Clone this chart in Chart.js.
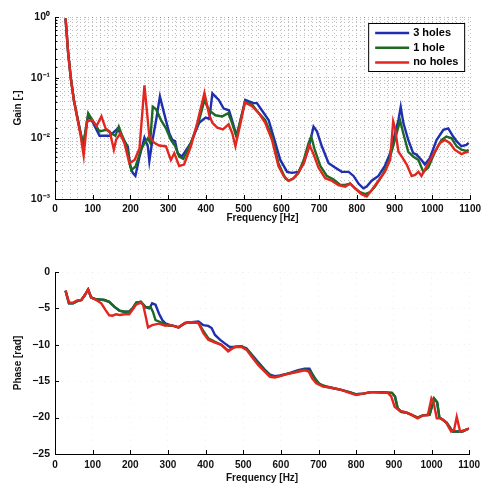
<!DOCTYPE html>
<html><head><meta charset="utf-8">
<script src="https://cdn.jsdelivr.net/npm/chart.js@4"></script>
<style>
html,body{margin:0;padding:0;background:#fff;width:485px;height:486px;overflow:hidden}
#c1{position:absolute;left:0;top:0;width:485px;height:243px}
#c2{position:absolute;left:0;top:243px;width:485px;height:243px}
</style></head>
<body>
<canvas id="c1" width="485" height="243"></canvas>
<canvas id="c2" width="485" height="243"></canvas>
<script>
// ---------- DATA ----------
const seriesNames = ['3 holes', '1 hole', 'no holes'];

// Gain (top plot)
const gainFreqBlue = [28,35,42,50,60,68,75,88,101,118,145,158,167,175,193,199,206,213,224,237,246,250,257,268,278,289,303,311,318,325,336,360,382,399,409,417,434,447,461,469,481,492,504,526,535,548,566,579,597,615,628,645,659,672,685,694,707,725,742,760,778,791,804,817,826,839,857,874,888,901,910,916,923,936,949,958,971,980,993,1011,1029,1042,1055,1064,1077,1090,1096];
const gainBlue = [0.95,0.25,0.097,0.043,0.021,0.012,0.0078,0.024,0.018,0.011,0.011,0.013,0.0146,0.011,0.0073,0.0035,0.0027,0.0024,0.005,0.0103,0.0074,0.0042,0.0084,0.02,0.049,0.026,0.012,0.0094,0.009,0.0057,0.005,0.0084,0.018,0.022,0.021,0.055,0.043,0.031,0.029,0.02,0.011,0.02,0.043,0.038,0.038,0.029,0.02,0.0107,0.0044,0.0028,0.0027,0.0028,0.0039,0.0069,0.0156,0.013,0.0074,0.0039,0.0033,0.0028,0.0028,0.0024,0.0018,0.0015,0.0016,0.002,0.0024,0.0035,0.0057,0.012,0.02,0.033,0.018,0.0094,0.0057,0.0054,0.0044,0.0037,0.0047,0.0094,0.0138,0.0146,0.0107,0.009,0.0074,0.0078,0.0084];

const gainFreqGreen = [28,35,42,50,60,68,75,88,101,118,136,150,160,169,178,190,202,213,228,237,246,252,259,268,281,294,307,318,329,340,360,382,396,408,425,443,459,469,481,492,504,522,540,557,575,592,610,619,632,645,659,672,679,688,703,720,738,756,769,782,795,808,822,835,848,866,883,896,910,914,923,936,949,963,976,989,1007,1024,1037,1051,1064,1077,1090,1096];
const gainGreen = [0.95,0.25,0.097,0.043,0.021,0.012,0.0078,0.026,0.019,0.013,0.0138,0.012,0.011,0.0156,0.011,0.0075,0.003,0.0034,0.0065,0.0083,0.01,0.0085,0.033,0.03,0.02,0.0146,0.0094,0.0075,0.005,0.0046,0.0084,0.02,0.043,0.029,0.024,0.023,0.026,0.018,0.0105,0.021,0.04,0.036,0.026,0.02,0.0107,0.0039,0.0022,0.002,0.0022,0.0027,0.0044,0.0084,0.0107,0.0065,0.0035,0.0024,0.0021,0.0017,0.0017,0.0018,0.0015,0.0013,0.0012,0.0013,0.0016,0.0024,0.0039,0.0074,0.0156,0.02,0.012,0.006,0.005,0.0044,0.0028,0.0033,0.006,0.0094,0.0107,0.01,0.0074,0.0065,0.0062,0.0065];

const gainFreqRed = [28,35,42,50,60,68,76,85,99,110,123,134,145,156,162,173,184,197,211,224,237,250,263,276,294,307,316,329,342,360,377,396,408,417,430,445,460,470,478,490,503,522,540,557,575,592,606,619,632,645,659,674,685,698,716,733,751,769,782,795,812,826,839,857,874,888,896,901,910,919,932,945,954,963,971,985,1002,1020,1033,1046,1059,1077,1086,1096];
const gainRed = [0.95,0.25,0.097,0.042,0.02,0.011,0.0052,0.019,0.02,0.016,0.023,0.0146,0.013,0.0065,0.0095,0.012,0.0083,0.0039,0.0044,0.0069,0.075,0.0107,0.0084,0.0076,0.0074,0.0044,0.0057,0.0035,0.0037,0.0074,0.018,0.056,0.025,0.018,0.015,0.014,0.017,0.012,0.0074,0.016,0.039,0.034,0.026,0.018,0.0094,0.0035,0.0024,0.002,0.0022,0.0027,0.0039,0.0078,0.0055,0.0033,0.0022,0.002,0.0017,0.0016,0.0018,0.0015,0.0012,0.0011,0.0014,0.002,0.0028,0.0044,0.019,0.0146,0.006,0.005,0.0037,0.0024,0.0025,0.0028,0.0024,0.0035,0.0054,0.0084,0.0094,0.0084,0.0065,0.0055,0.0058,0.006];

// Phase (bottom plot)
const phaseFreqBlue = [28,37,48,59,70,79,88,96,109,131,144,158,171,184,197,206,216,228,241,250,254,258,267,276,285,293,306,315,328,346,363,381,394,407,416,425,438,451,464,477,495,509,522,540,557,571,584,597,615,628,646,663,676,685,699,712,734,760,782,800,818,840,866,895,903,910,919,932,946,963,977,995,1007,1015,1021,1030,1040,1056,1070,1082,1091,1100];
const phaseBlue = [-2.56,-4.3,-4.3,-4.0,-3.85,-3.2,-2.4,-3.5,-3.75,-3.85,-4.1,-4.8,-5.3,-5.45,-5.45,-5.0,-4.2,-4.1,-4.85,-5.0,-4.7,-4.3,-4.5,-5.7,-6.6,-7.05,-7.3,-7.4,-7.6,-7.0,-6.9,-6.8,-7.3,-7.4,-7.7,-8.65,-9.3,-9.8,-10.3,-10.3,-10.2,-10.5,-11.3,-12.4,-13.4,-14.1,-14.3,-14.2,-14.0,-13.8,-13.5,-13.3,-13.3,-14.15,-15.3,-15.65,-15.9,-16.2,-16.5,-16.8,-16.7,-16.5,-16.5,-16.6,-17.1,-18.7,-19.2,-19.3,-19.6,-20.0,-19.7,-19.6,-17.4,-17.9,-20.0,-20.3,-20.7,-21.9,-21.9,-21.9,-21.7,-21.5];

const phaseFreqGreen = [28,37,48,59,70,79,88,96,109,131,144,158,171,184,197,206,216,228,241,254,260,267,276,289,302,315,328,346,363,381,394,407,425,442,460,477,495,509,522,540,557,571,584,597,615,628,646,663,678,688,703,720,734,760,782,800,818,840,866,895,903,910,919,932,946,963,977,995,1007,1015,1021,1030,1040,1056,1070,1082,1091,1100];
const phaseGreen = [-2.56,-4.3,-4.3,-4.0,-3.85,-3.2,-2.4,-3.5,-3.75,-3.85,-4.1,-4.8,-5.3,-5.45,-5.45,-5.0,-4.2,-4.1,-4.85,-4.85,-5.45,-6.6,-6.8,-7.1,-7.4,-7.4,-7.6,-7.0,-6.9,-7.0,-8.1,-9.1,-9.6,-10.0,-10.8,-10.3,-10.2,-10.6,-11.4,-12.6,-13.5,-14.2,-14.4,-14.3,-14.0,-13.9,-13.6,-13.4,-13.6,-14.5,-15.4,-15.7,-15.9,-16.2,-16.5,-16.8,-16.7,-16.5,-16.5,-16.6,-17.1,-18.7,-19.2,-19.3,-19.6,-20.0,-19.7,-19.6,-17.35,-17.9,-20.0,-20.3,-20.7,-21.9,-21.9,-21.9,-21.7,-21.5];

const phaseFreqRed = [28,37,48,59,70,79,88,96,109,123,134,144,153,162,172,184,197,206,215,228,234,241,247,258,276,293,302,315,328,346,363,381,394,407,425,442,460,477,495,509,522,540,557,571,584,597,615,628,646,663,674,683,694,712,734,760,782,800,818,840,866,884,893,902,915,932,946,963,977,990,1000,1005,1014,1025,1038,1052,1060,1067,1076,1091,1100];
const phaseRed = [-2.56,-4.2,-4.2,-3.9,-3.85,-3.2,-2.4,-3.5,-3.85,-4.3,-5.2,-5.95,-6.0,-5.8,-5.9,-5.8,-5.8,-5.2,-4.5,-4.2,-4.5,-6.1,-7.6,-7.3,-7.1,-7.4,-7.3,-7.4,-7.6,-7.0,-6.9,-7.0,-8.4,-9.3,-9.7,-10.0,-10.9,-10.3,-10.3,-10.7,-11.6,-12.8,-13.7,-14.4,-14.5,-14.3,-14.05,-13.9,-13.7,-13.5,-13.7,-14.6,-15.3,-15.75,-15.9,-16.2,-16.6,-16.9,-16.7,-16.5,-16.6,-16.6,-17.1,-18.5,-19.05,-19.3,-19.6,-20.1,-19.7,-19.7,-17.35,-17.8,-20.1,-20.1,-20.6,-21.9,-21.7,-19.9,-21.9,-21.7,-21.5];

// Tick labels
const gainTickLabels = {'0':'10⁰','-1':'10⁻¹','-2':'10⁻²','-3':'10⁻³'};
const freqTickValues = [0,100,200,300,400,500,600,700,800,900,1000,1100];
const phaseTickValues = [0,-5,-10,-15,-20,-25];

// ---------- HELPERS ----------
const pts = (xs, ys) => xs.map((x, i) => ({x, y: ys[i]}));
const COLORS = {'3 holes':'#1f2fb0','1 hole':'#1f6a22','no holes':'#e3261f'};
const FONT = {family:'"Liberation Sans", Arial, sans-serif', size:10, weight:'bold'};

const inwardTicks = {
  id:'inwardTicks',
  afterDraw(chart, args, o){
    const ctx = chart.ctx, a = chart.chartArea;
    const xs = chart.scales.x, ys = chart.scales.y;
    ctx.save(); ctx.strokeStyle = '#000'; ctx.lineWidth = 1;
    ctx.beginPath();
    freqTickValues.forEach(v => {
      const p = Math.round(xs.getPixelForValue(v)) + 0.5;
      ctx.moveTo(p, a.bottom); ctx.lineTo(p, a.bottom - 4);
    });
    ys.ticks.forEach(t => {
      const major = o.isMajor(t.value);
      const p = Math.round(ys.getPixelForValue(t.value)) + 0.5;
      ctx.moveTo(a.left, p); ctx.lineTo(a.left + (major ? 4 : 2.5), p);
    });
    ctx.stroke(); ctx.restore();
  }
};

const legendBox = {
  id:'legendBox',
  afterDraw(chart){
    const ctx = chart.ctx, a = chart.chartArea;
    const x0 = a.right - 102, y0 = a.top + 6, w = 96, h = 48;
    ctx.save();
    ctx.fillStyle = '#fff'; ctx.fillRect(x0, y0, w, h);
    ctx.strokeStyle = '#000'; ctx.lineWidth = 1; ctx.strokeRect(x0 + 0.5, y0 + 0.5, w, h);
    ctx.font = 'bold 11px "Liberation Sans", Arial, sans-serif';
    ctx.textBaseline = 'middle';
    seriesNames.forEach((name, i) => {
      const ds = chart.data.datasets.find(d => d.label === name);
      const y = y0 + 10 + i * 14.7;
      ctx.strokeStyle = ds.borderColor; ctx.lineWidth = 2.5;
      ctx.beginPath(); ctx.moveTo(x0 + 7, y); ctx.lineTo(x0 + 41, y); ctx.stroke();
      ctx.fillStyle = '#000'; ctx.fillText(name, x0 + 45, y);
    });
    ctx.restore();
  }
};

function makeDatasets(xB, yB, xG, yG, xR, yR){
  const mk = (name, xs, ys, order) => ({
    label: name, data: pts(xs, ys), borderColor: COLORS[name], backgroundColor: COLORS[name],
    borderWidth: 2.4, pointRadius: 0, tension: 0, fill: false, order
  });
  return [mk('3 holes', xB, yB, 3), mk('1 hole', xG, yG, 2), mk('no holes', xR, yR, 1)];
}

const isPow10 = v => { const e = Math.log10(v); return Math.abs(e - Math.round(e)) < 1e-6; };

// ---------- TOP: GAIN ----------
new Chart(document.getElementById('c1'), {
  type: 'line',
  data: { datasets: makeDatasets(gainFreqBlue, gainBlue, gainFreqGreen, gainGreen, gainFreqRed, gainRed) },
  options: {
    responsive: false, animation: false,
    layout: { padding: { left: 0, right: 13, top: 17, bottom: 0 } },
    plugins: { legend: { display: false }, tooltip: { enabled: false }, inwardTicks: { isMajor: isPow10 } },
    scales: {
      x: {
        type: 'linear', min: 0, max: 1100,
        afterFit: s => { s.height = 44; },
        ticks: { stepSize: 20, autoSkip: false, maxRotation: 0, padding: 4, color: '#111', font: FONT,
          callback: v => (v % 100 === 0 ? String(v) : '') },
        grid: { drawTicks: false, lineWidth: 1,
          color: c => (c.tick && c.tick.value > 0 ? 'rgba(0,0,0,0.26)' : 'rgba(0,0,0,0)') },
        border: { display: true, color: '#000', width: 1, dash: [1, 3] },
        title: { display: true, text: 'Frequency [Hz]', color: '#111', font: FONT, padding: { top: 0, bottom: 19 } }
      },
      y: {
        type: 'logarithmic', min: 0.001, max: 1,
        afterFit: s => { s.width = 55; },
        ticks: { autoSkip: false, padding: 5, color: '#111', font: {...FONT, size: 10.5},
          callback: v => { if (!isPow10(v)) return ''; return gainTickLabels[String(Math.round(Math.log10(v)))]; } },
        grid: { drawTicks: false, lineWidth: 1, color: 'rgba(0,0,0,0.26)' },
        border: { display: true, color: '#000', width: 1, dash: [1, 3] },
        title: { display: true, text: 'Gain [-]', color: '#111', font: FONT, padding: { top: 12, bottom: 0 } }
      }
    }
  },
  plugins: [inwardTicks, legendBox]
});

// ---------- BOTTOM: PHASE ----------
new Chart(document.getElementById('c2'), {
  type: 'line',
  data: { datasets: makeDatasets(phaseFreqBlue, phaseBlue, phaseFreqGreen, phaseGreen, phaseFreqRed, phaseRed) },
  options: {
    responsive: false, animation: false,
    layout: { padding: { left: 0, right: 13, top: 29, bottom: 0 } },
    plugins: { legend: { display: false }, tooltip: { enabled: false }, inwardTicks: { isMajor: () => true } },
    scales: {
      x: {
        type: 'linear', min: 0, max: 1100,
        afterFit: s => { s.height = 32; },
        ticks: { stepSize: 100, autoSkip: false, maxRotation: 0, padding: 5, color: '#111', font: FONT,
          callback: v => String(v) },
        grid: { drawTicks: false, lineWidth: 1,
          color: c => (c.tick && c.tick.value > 0 ? 'rgba(0,0,0,0.06)' : 'rgba(0,0,0,0)') },
        border: { display: true, color: '#000', width: 1, dash: [1, 5] },
        title: { display: true, text: 'Frequency [Hz]', color: '#111', font: FONT, padding: { top: 0, bottom: 2 } }
      },
      y: {
        type: 'linear', min: -25, max: 0,
        afterFit: s => { s.width = 55; },
        ticks: { stepSize: 5, autoSkip: false, padding: 5, color: '#111', font: {...FONT, size: 10.5},
          callback: v => (phaseTickValues.includes(v) ? (v < 0 ? '−' + Math.abs(v) : String(v)) : '') },
        grid: { drawTicks: false, lineWidth: 1,
          color: c => (c.tick && c.tick.value > -25 ? 'rgba(0,0,0,0.06)' : 'rgba(0,0,0,0)') },
        border: { display: true, color: '#000', width: 1, dash: [1, 5] },
        title: { display: true, text: 'Phase [rad]', color: '#111', font: FONT, padding: { top: 12, bottom: 0 } }
      }
    }
  },
  plugins: [inwardTicks]
});
</script>
</body></html>
